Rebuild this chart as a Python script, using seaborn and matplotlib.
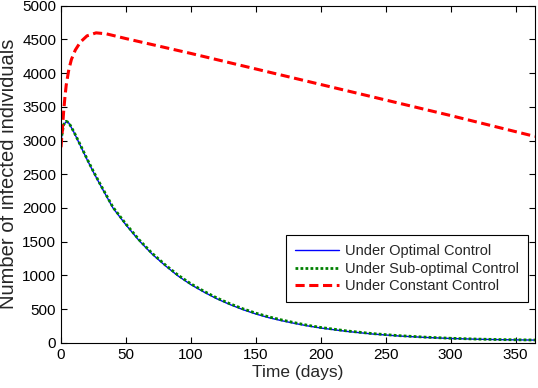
import matplotlib
matplotlib.use("Agg")
import matplotlib.pyplot as plt
import pandas as pd
import seaborn as sns

# time grid (days) for the controlled runs
t_ctrl = [0, 2, 4, 6, 10, 15, 20, 25, 30, 40, 50, 60, 70, 80, 90, 100, 110,
          120, 130, 140, 150, 160, 170, 180, 190, 200, 220, 240, 260, 280,
          300, 320, 340, 365]
optimal = [3000, 3230, 3280, 3260, 3120, 2920, 2720, 2530, 2350, 2000, 1750,
           1520, 1320, 1150, 995, 865, 755, 655, 570, 495, 430, 375, 330, 290,
           253, 222, 172, 133, 104, 83, 67, 56, 49, 43]
suboptimal = [3000, 3235, 3285, 3265, 3125, 2930, 2730, 2540, 2360, 2012, 1762,
              1532, 1332, 1162, 1007, 877, 767, 667, 582, 507, 442, 387, 341,
              300, 262, 230, 179, 139, 109, 87, 70, 58, 50, 44]

# time grid for the constant-control run
t_const = [0, 1, 2, 3, 4, 6, 8, 11, 15, 20, 27, 35, 50, 100, 150, 200, 250,
           300, 365]
constant = [2900, 3150, 3420, 3640, 3820, 4050, 4200, 4340, 4460, 4550, 4595,
            4580, 4510, 4290, 4060, 3830, 3600, 3370, 3060]

series = [
    ("Under Optimal Control", t_ctrl, optimal),
    ("Under Sub-optimal Control", t_ctrl, suboptimal),
    ("Under Constant Control", t_const, constant),
]

styles = {
    "Under Optimal Control": {"color": "#0000ff", "lw": 1.0, "dashes": ""},
    "Under Sub-optimal Control": {"color": "#008000", "lw": 2.0, "dashes": (1, 0.8)},
    "Under Constant Control": {"color": "#ff0000", "lw": 2.2, "dashes": (3, 1.5)},
}

sns.set_theme(style="ticks")
plt.rcParams["font.family"] = ["Liberation Sans", "DejaVu Sans"]

fig = plt.figure(figsize=(5.38, 3.88), dpi=100)
ax = fig.add_axes([0.1134, 0.116, 0.8810, 0.8698])

for name, t, y in series:
    df = pd.DataFrame({"t": t, "y": y})
    st = styles[name]
    sns.lineplot(data=df, x="t", y="y", ax=ax, color=st["color"],
                 lw=st["lw"], label=name)
    if st["dashes"]:
        ax.lines[-1].set_dashes(st["dashes"])

ax.set_xlim(0, 365)
ax.set_ylim(0, 5000)
ax.set_xticks(range(0, 351, 50))
ax.set_yticks(range(0, 5001, 500))
ax.tick_params(direction="in", top=True, right=True, labelsize=11,
               length=4.5, width=0.8, colors="black")
for s in ax.spines.values():
    s.set_color("black")
    s.set_linewidth(0.8)

ax.set_xlabel("Time (days)", fontsize=12.5, labelpad=2)
ax.set_ylabel("Number of infected individuals", fontsize=14.5, labelpad=3)

leg = ax.legend(loc="lower right", bbox_to_anchor=(0.985, 0.121),
                fontsize=10.5, fancybox=False, edgecolor="black", framealpha=1,
                handlelength=3.0, borderaxespad=0, labelspacing=0.25,
                handletextpad=0.45, borderpad=0.6)
leg.get_frame().set_linewidth(0.8)

fig.savefig("out.png", dpi=100)
